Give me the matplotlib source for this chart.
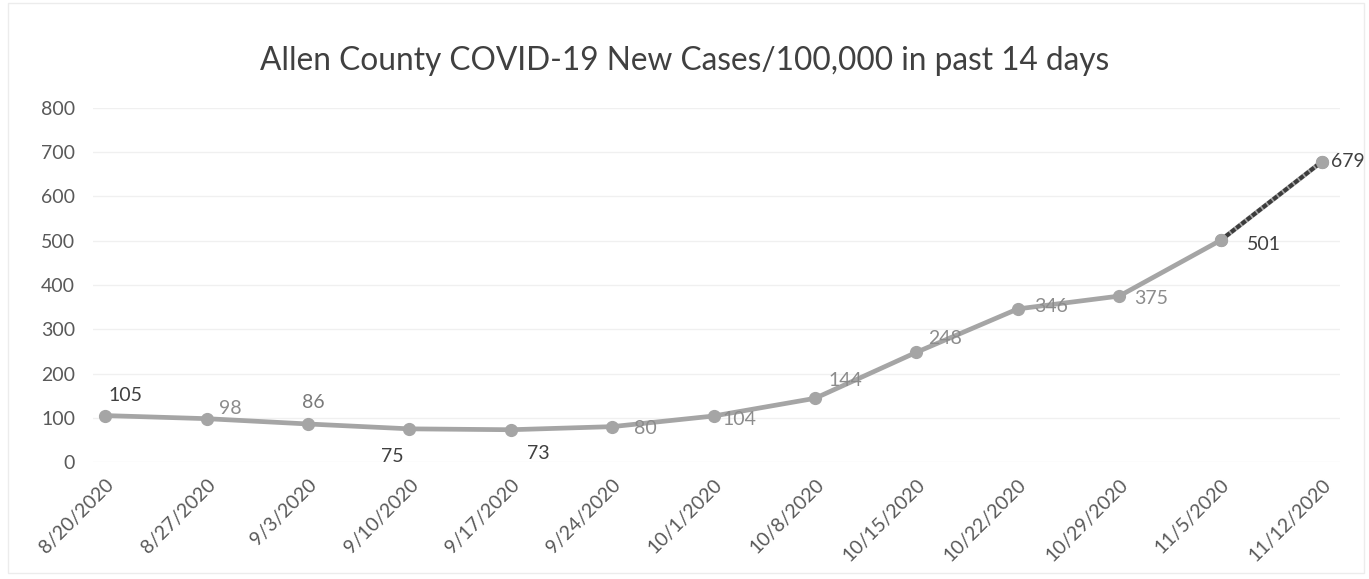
import numpy as np
import matplotlib.pyplot as plt
from matplotlib.patches import Rectangle

plt.rcParams['font.family'] = ['Lato', 'DejaVu Sans']

# data
dates = ['8/20/2020', '8/27/2020', '9/3/2020', '9/10/2020', '9/17/2020',
         '9/24/2020', '10/1/2020', '10/8/2020', '10/15/2020', '10/22/2020',
         '10/29/2020', '11/5/2020', '11/12/2020']
cases = [105, 98, 86, 75, 73, 80, 104, 144, 248, 346, 375, 501, 679]

# label offsets (pixels) and colours
lbl_dx = [20, 24, 5, -17, 27, 33, 26, 30, 29, 33, 32, 43, 26]
lbl_dy = [20, 10, 21, -28, -24, -2, -3, 18, 14, 2, -2, -4, 0]
lbl_col = ['#404040', '#8c8c8c', '#7a7a7a', '#404040', '#404040', '#8c8c8c',
           '#8c8c8c', '#8c8c8c', '#8c8c8c', '#8c8c8c', '#8c8c8c', '#404040',
           '#404040']

fig = plt.figure(figsize=(13.69, 5.79), dpi=100)
ax = fig.add_axes([0.068, 0.202, 0.911, 0.6115])

x = np.arange(len(dates))

#Grid
ax.set_ylim(0, 800)
ax.set_yticks(np.arange(0, 801, 100))
ax.grid(axis='y', color='#f0f0f0', linewidth=1)
ax.set_axisbelow(True)

#Line
ax.plot(x, cases, color='#a5a5a5', linewidth=3.4, marker='o',
        markersize=8.5, markerfacecolor='#a5a5a5', markeredgecolor='#a5a5a5',
        zorder=3)
ax.plot(x[-2:], cases[-2:], color='#3c3c3c', linewidth=3,
        linestyle=(0, (1.2, 0.4)), zorder=4)
ax.plot(x[-2:], cases[-2:], 'o', color='#a5a5a5', markersize=8.5, zorder=5)

#Labels
for i in range(len(cases)):
    ax.annotate(str(cases[i]), (x[i], cases[i]),
                xytext=(lbl_dx[i], lbl_dy[i]), textcoords='offset pixels',
                ha='center', va='center', fontsize=14, color=lbl_col[i],
                zorder=6)

ax.set_xlim(-0.12, 12.18)
ax.set_xticks(x)
ax.set_xticklabels(dates, rotation=45, ha='right', rotation_mode='anchor',
                   fontsize=14, color='#595959')
ax.tick_params(axis='y', labelsize=14, labelcolor='#595959', length=0, pad=13)
ax.tick_params(axis='x', length=0, pad=10)
for s in ax.spines.values():
    s.set_visible(False)

fig.text(0.5, 0.895, 'Allen County COVID-19 New Cases/100,000 in past 14 days',
         ha='center', va='center', fontsize=22.8, color='#404040')

# faint chart border
fig.patches.append(Rectangle((0.006, 0.01), 0.99, 0.985, transform=fig.transFigure,
                             fill=False, edgecolor='#ececec', linewidth=1))

fig.savefig('out.png', dpi=100)
